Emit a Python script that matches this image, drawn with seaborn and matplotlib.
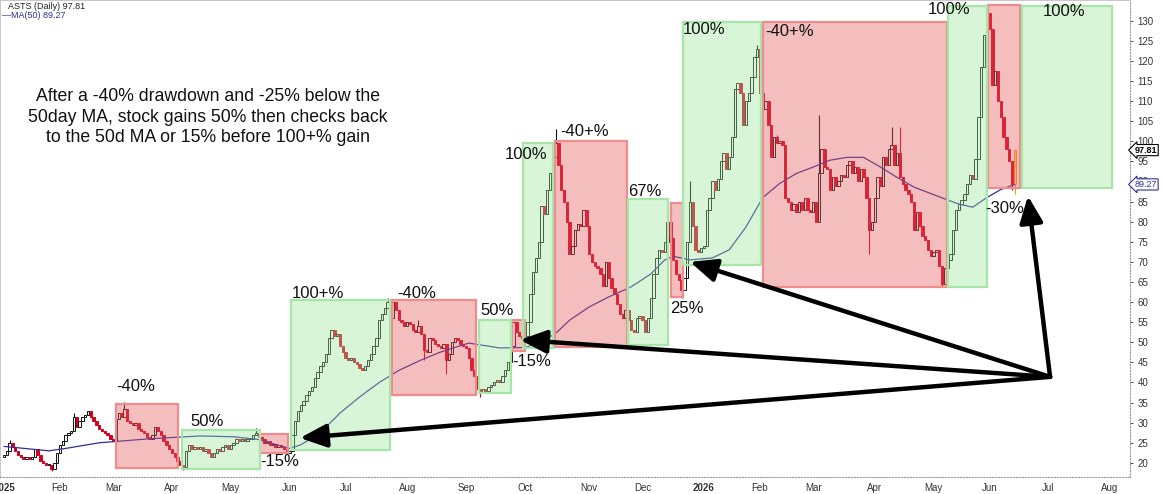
import numpy as np
import pandas as pd
import matplotlib
matplotlib.use("Agg")
import matplotlib.pyplot as plt
import seaborn as sns
from matplotlib.patches import Rectangle
from matplotlib.transforms import blended_transform_factory

# ---------------- data ----------------
ticker = "ASTS"
last_close = 97.81
last_ma = 89.27

jan25 = [22, 23, 25, 24, 23, 22, 21.5, 21, 21.5, 21, 21.5, 23.5, 22, 20.5, 20, 19.5, 19.5, 18.5, 20, 22.5]
feb25 = [24.5, 25.5, 27, 27.5, 28, 31.5, 29, 30.5, 31.5, 32, 33, 31.5, 30.5, 29.5, 28.5, 28, 27.5, 27, 26]
mar25 = [25.5, 31, 32.5, 31.5, 33.5, 30.5, 30, 29.5, 30, 28.5, 28, 27.5, 26.5, 26, 27, 29, 28, 27, 25.5, 24.5, 23.5]
apr25 = [22.5, 21.5, 20.5, 19.5, 19, 23, 24.5, 23.5, 24, 23.5, 24, 23, 23.5, 22.5, 21.5, 22.5, 23.5, 23, 24, 24.5, 23.5]
may25 = [24.5, 25, 26, 25.5, 26, 25.5, 26, 26, 27, 27.5, 26.5, 26, 25, 25.5, 24.5, 24.8, 24, 24.5, 24, 23.5, 22.5]
jun25 = [23, 27, 30.5, 33, 34.5, 35.5, 37, 38, 39, 41, 42.5, 44, 45, 47, 51, 53, 51.5, 52, 49, 47.5]
jul25 = [46, 45.5, 46, 45, 44.5, 43.5, 43, 44, 45.5, 47, 49, 51, 55.5, 57, 58.5, 60, 56, 60, 58, 55.5, 55, 54]
aug25 = [55, 54.5, 53, 52.5, 54, 52, 48, 47.5, 51, 50.5, 49.5, 49, 48.5, 49.5, 45.5, 47, 50, 51, 50.5, 49.5, 49]
sep25 = [48.5, 46, 43, 41.5, 38.5, 37.5, 38.5, 38, 39, 39.5, 40, 40.5, 40, 41.5, 43, 45, 49, 55, 52.5, 51.5, 51]
oct25 = [51.5, 55, 62, 67.5, 71, 75, 84, 82, 88, 92, 96, 99.5, 94, 88, 85, 80, 72, 74, 78, 79.5, 79, 83, 79]
nov25 = [72, 70, 69, 68.5, 67, 64, 70, 66, 63.5, 62, 59.5, 57, 56, 58, 55.5, 53, 52.5, 56, 56.5]
dec25 = [55.5, 52.5, 56, 61, 67, 71, 73, 72.5, 75, 80, 76, 70.5, 67, 65.5, 63, 66, 75, 85, 79, 73, 72.5, 73.5]
jan26 = [74, 83, 86, 90, 88, 90.5, 95, 97, 93, 96, 101, 113, 114.5, 112, 104, 110, 112, 116, 121, 123]
feb26 = [112, 108, 110, 104, 96, 101, 99.5, 100, 99, 86, 85, 83, 84.5, 82.5, 85, 83, 86, 83, 82.5]
mar26 = [85, 80, 92, 98, 93.5, 93, 88, 91, 89, 90, 91.5, 91, 94, 95, 92, 93.5, 90, 93, 91, 86, 78, 80]
apr26 = [86, 91, 89, 96, 94, 98, 99, 94, 97, 91, 89.5, 88, 87, 85, 78, 82.5, 79, 76.5, 75.5, 73, 71.5]
may26 = [72.5, 73, 69, 64.5, 68.5, 70.5, 72, 78, 83, 84.5, 85.5, 87, 89.5, 91.5, 90.5, 95.5, 106, 118.5, 126.5, 132]
jun26 = [128, 114, 117.5, 110, 106, 101, 98, 95, 89.5, 97.81]

closes = (jan25 + feb25 + mar25 + apr25 + may25 + jun25 + jul25 + aug25 + sep25 + oct25
          + nov25 + dec25 + jan26 + feb26 + mar26 + apr26 + may26 + jun26)

# notable wick extremes (trading-day number -> price)
wick_high = {2: 25.6, 25: 32.5, 43: 35.2, 90: 28.6, 137: 61, 148: 55.6, 197: 103, 237: 85, 245: 90,
             269: 124, 276: 101.5, 291: 106.5, 317: 103.6, 320: 103.6, 351: 133.5, 352: 130}
wick_low = {17: 18.0, 64: 18.3, 138: 51, 150: 45.6, 158: 42, 170: 36.3, 223: 50, 242: 61,
            309: 72, 335: 63.8, 360: 87.8, 361: 87}

# 50-day moving average (trading-day number, value)
ma_day = [0, 16, 22, 34, 52, 70, 82, 91, 102, 106, 113, 120, 127, 134, 141, 149, 156, 166, 177, 186,
          191, 197, 202, 209, 216, 224, 231, 236, 239, 245, 253, 259, 265, 271, 277, 283, 289, 295, 301, 307,
          313, 319, 325, 331, 337, 341, 346, 351, 356, 361]
ma_value = [24.1, 23.0, 23.6, 25.0, 26.0, 26.7, 26.5, 25.8, 23.6, 24.5, 27.5, 32.4, 36.4, 40.0, 43.0, 45.6, 47.6, 49.8, 48.6, 48.7,
            49.8, 52.2, 55.5, 58.8, 61.3, 63.8, 67.0, 70.5, 71.4, 70.5, 71.0, 73.0, 78.7, 86.0, 89.5, 92.0, 93.6, 95.3, 96.0, 96.0,
            93.6, 91.0, 88.6, 87.0, 85.4, 84.4, 83.6, 86.0, 88.0, 89.27]

market_holidays = ["2025-01-09", "2025-01-20", "2025-02-17", "2025-04-18", "2025-05-26", "2025-06-19",
                   "2025-07-04", "2025-09-01", "2025-11-27", "2025-12-25", "2026-01-01", "2026-01-19",
                   "2026-02-16", "2026-04-03", "2026-05-25", "2026-06-19", "2026-07-03"]

# annotation boxes: kind, start day, end day, low, high
box_kind = ["r", "r", "r", "r", "r", "r", "r", "r", "g", "g", "g", "g", "g", "g", "g", "g"]
box_start = [40, 91.4, 138.6, 181.4, 196.8, 238.2, 271.1, 351.4, 63.6, 102.5, 169.6, 185.4, 222.9, 242.5, 337.1, 363.6]
box_end = [62.1, 101.4, 168.6, 186.1, 222.5, 242.5, 336.8, 362.9, 91.4, 137.9, 181.1, 196.1, 237.1, 270.4, 351.1, 395.7]
box_low = [18.7, 22.5, 36.9, 47.8, 48.8, 61.3, 63.8, 88.4, 18.5, 23.2, 37.4, 48.5, 49.3, 69.2, 63.7, 88.4]
box_high = [34.7, 27.2, 60.5, 55.5, 100.0, 84.6, 129.7, 134.0, 28.1, 60.5, 55.5, 99.6, 85.6, 129.7, 133.7, 133.7]

pct_text = ["-40%", "50%", "-15%", "100+%", "-40%", "50%", "-15%", "100%", "-40+%", "67%", "25%",
            "100%", "-40+%", "100%", "-30%", "100%"]
pct_day = [40, 66.4, 91.4, 102.9, 140.4, 170, 181.4, 179, 198.6, 222.9, 237.9, 242.5, 271.8, 330, 350.4, 371]
pct_price = [39.1, 30.4, 20.4, 62.2, 62.2, 58.0, 45.3, 96.6, 102.5, 87.4, 58.3, 127.7, 127.2, 132.9, 83.4, 132.4]

note = ("After a -40% drawdown and -25% below the\n50day MA, stock gains 50% then checks back\n"
        "to the 50d MA or 15% before 100+% gain")

arrow_from = (373.6, 41.4)
arrow_to_day = [105.7, 184.3, 245.0, 365.7]
arrow_to_price = [26.2, 50.6, 70.0, 86.4]

y_ticks = list(range(20, 135, 5))

# ---------------- build ----------------
sns.set_theme(style="white")
plt.rcParams["font.family"] = ["Liberation Sans", "DejaVu Sans"]

cal = pd.offsets.CustomBusinessDay(holidays=market_holidays)
all_days = pd.date_range("2025-01-02", "2026-08-31", freq=cal)
n = len(closes)
dates = all_days[:n]

close = np.array(closes, dtype=float)
open_ = np.r_[close[0] - 0.5, close[:-1]]
high = np.maximum(open_, close)
low = np.minimum(open_, close)
for k, v in wick_high.items():
    high[k] = max(high[k], v)
for k, v in wick_low.items():
    low[k] = min(low[k], v)
days = np.arange(n)

RED = "#d4001e"
down = close < open_
face = np.where(down, RED, "white").tolist()
edge = np.where(down, RED, "#111111").tolist()
face[-1] = "#ffd37a"
edge[-1] = "#f39c12"

fig = plt.figure(figsize=(11.63, 4.94), dpi=100)
ax = fig.add_axes([0, 17 / 494, 1130 / 1163, 1 - 17 / 494])

ax.vlines(days, low, high, colors=edge, linewidth=0.8, zorder=2)
body_lo = np.minimum(open_, close)
body_h = np.maximum(np.abs(close - open_), 0.3)
ax.bar(days, body_h, bottom=body_lo, width=0.8, color=face, edgecolor=edge,
       linewidth=0.7, zorder=3)

sns.lineplot(x=ma_day, y=ma_value, ax=ax, color="#2e2e9c", linewidth=0.9, zorder=4)

for kind, s, e, lo, hi in zip(box_kind, box_start, box_end, box_low, box_high):
    if kind == "r":
        fc, ec = (0.91, 0.37, 0.37, 0.40), (0.93, 0.55, 0.55, 1.0)
    else:
        fc, ec = (0.60, 0.90, 0.60, 0.38), (0.66, 0.90, 0.66, 1.0)
    ax.add_patch(Rectangle((s, lo), e - s, hi - lo, facecolor=fc, edgecolor=ec,
                           linewidth=1.6, zorder=5))

for t, d, p in zip(pct_text, pct_day, pct_price):
    ax.text(d, p, t, fontsize=12, ha="left", va="center", color="#111111", zorder=8)

for d, p in zip(arrow_to_day, arrow_to_price):
    ax.annotate("", xy=(d, p), xytext=arrow_from,
                arrowprops=dict(arrowstyle="-|>,head_length=0.8,head_width=0.35",
                                color="black", lw=3.2, mutation_scale=20,
                                shrinkA=0, shrinkB=0), zorder=9)

fig.text(208 / 1163, 1 - 117 / 494, note, fontsize=12.7, ha="center", va="center",
         multialignment="center", linespacing=1.25, color="#111111")

# axes styling
ax.set_xlim(-4 / 2.8, (1130 - 4) / 2.8)
ax.set_ylim(16.49, 135.15)
ax.yaxis.tick_right()
ax.set_yticks(y_ticks)
ax.set_yticklabels([str(v) for v in y_ticks])
ax.tick_params(axis="y", length=2.5, width=0.6, pad=3, labelsize=7, colors="#333333",
               right=True, left=False)

month_first = pd.Series(np.arange(len(all_days)), index=all_days).groupby(
    [all_days.year, all_days.month]).first()
xt, xl = [], []
for (yr, mo), idx in month_first.items():
    xt.append(idx)
    xl.append(str(yr) if mo == 1 else pd.Timestamp(year=yr, month=mo, day=1).strftime("%b"))
ax.set_xticks(xt)
ax.set_xticklabels(xl)
ax.tick_params(axis="x", length=0, pad=4, labelsize=7, colors="#333333")
for lab in ax.get_xticklabels():
    if lab.get_text() in ("2025", "2026"):
        lab.set_fontweight("bold")
ax.set_xlabel("")
ax.set_ylabel("")

for side in ("left", "top"):
    ax.spines[side].set_color("#c8c8c8")
    ax.spines[side].set_linewidth(0.8)
for side in ("right", "bottom"):
    ax.spines[side].set_color("#9a9a9a")
    ax.spines[side].set_linestyle(":")
    ax.spines[side].set_linewidth(0.8)

# header legend
fig.text(8 / 1163, 1 - 6.5 / 494, f"{ticker} (Daily) {last_close:.2f}", fontsize=6.5,
         ha="left", va="center", color="#222222")
fig.text(2 / 1163, 1 - 16 / 494, f"\u2014MA(50) {last_ma:.2f}", fontsize=6.5,
         ha="left", va="center", color="#2e2e9c")

# price tags on the right axis
trans = blended_transform_factory(ax.transAxes, ax.transData)
ax.text(1.004, last_close, f"{last_close:.2f}", transform=trans, fontsize=6.5,
        fontweight="bold", ha="left", va="center", color="black", zorder=10, clip_on=False,
        bbox=dict(boxstyle="larrow,pad=0.12", facecolor="white", edgecolor="black", linewidth=0.8))
ax.text(1.004, last_ma, f"{last_ma:.2f}", transform=trans, fontsize=6.5,
        ha="left", va="center", color="#2e2e9c", zorder=10, clip_on=False,
        bbox=dict(boxstyle="larrow,pad=0.12", facecolor="white", edgecolor="#2e2e9c", linewidth=0.8))

fig.savefig("out.png", dpi=100)
